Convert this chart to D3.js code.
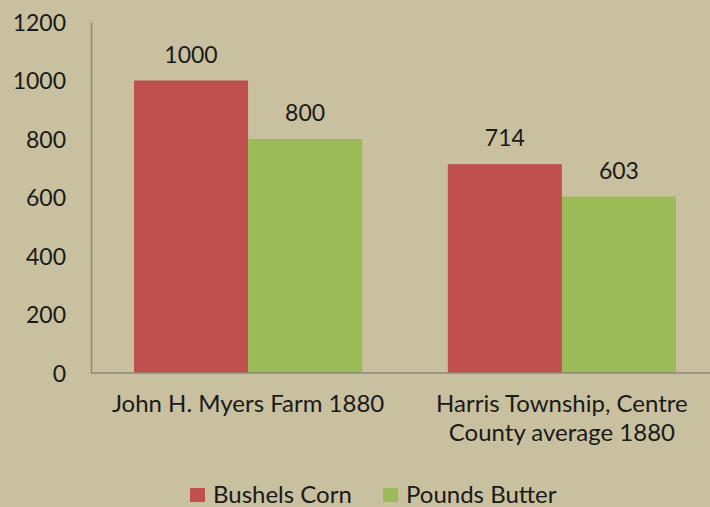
<!DOCTYPE html>
<html>
<head>
<meta charset="utf-8">
<script src="https://cdn.jsdelivr.net/npm/d3@7"></script>
<style>
  body { margin: 0; background: #c9c09f; }
  svg { display: block; }
  text { font-family: Lato, "Open Sans", sans-serif; fill: #1a1a1a; }
</style>
</head>
<body>
<div id="chart"></div>
<script>
// data
var categories = ["John H. Myers Farm 1880", "Harris Township, Centre County average 1880"];
var categoryLines = [["John H. Myers Farm 1880"], ["Harris Township, Centre", "County average 1880"]];
var seriesNames = ["Bushels Corn", "Pounds Butter"];
var corn = [1000, 714];
var butter = [800, 603];
var yTicks = [0, 200, 400, 600, 800, 1000, 1200];
var colors = ["#c0504d", "#9bbb59"];

var width = 710, height = 507;
var margin = {top: 22, left: 91, bottom: 134};
var plotW = 628;
var fs = "23px";

var svg = d3.select("#chart").append("svg")
  .attr("width", width)
  .attr("height", height);

var x0 = d3.scaleBand()
  .domain(categories)
  .range([margin.left, margin.left + plotW])
  .paddingInner(0.273)
  .paddingOuter(0.137);

var x1 = d3.scaleBand()
  .domain(seriesNames)
  .range([0, x0.bandwidth()]);

var y = d3.scaleLinear()
  .domain([0, 1200])
  .range([height - margin.bottom, margin.top]);

var rows = categories.map(function(c, i){
  return {cat: c, vals: [corn[i], butter[i]]};
});

// y axis
var yAxis = svg.append("g")
  .attr("transform", "translate(" + margin.left + ",0)")
  .call(d3.axisLeft(y).tickValues(yTicks).tickFormat(d3.format("d")).tickSize(0).tickPadding(25));
yAxis.select(".domain").attr("stroke", "#8e8a7c").attr("stroke-width", 1.5);
yAxis.selectAll("text").style("font-size", fs).attr("dy", "0.36em");

// bars
var groups = svg.selectAll(".grp")
  .data(rows)
  .enter().append("g")
  .attr("class", "grp")
  .attr("transform", function(d){ return "translate(" + x0(d.cat) + ",0)"; });

groups.selectAll("rect")
  .data(function(d){ return d.vals.map(function(v, k){ return {name: seriesNames[k], v: v, k: k}; }); })
  .enter().append("rect")
  .attr("x", function(d){ return x1(d.name); })
  .attr("width", x1.bandwidth())
  .attr("y", function(d){ return y(d.v); })
  .attr("height", function(d){ return y(0) - y(d.v); })
  .style("fill", function(d){ return colors[d.k]; });

groups.selectAll(".lbl")
  .data(function(d){ return d.vals.map(function(v, k){ return {name: seriesNames[k], v: v}; }); })
  .enter().append("text")
  .attr("class", "lbl")
  .attr("x", function(d){ return x1(d.name) + x1.bandwidth() / 2; })
  .attr("y", function(d){ return y(d.v) - 18; })
  .attr("text-anchor", "middle")
  .style("font-size", fs)
  .text(function(d){ return d.v; });

// x axis line
svg.append("line")
  .attr("x1", margin.left)
  .attr("x2", margin.left + plotW)
  .attr("y1", y(0))
  .attr("y2", y(0))
  .attr("stroke", "#8e8a7c")
  .attr("stroke-width", 1.5);

// category labels
categories.forEach(function(c, i){
  var t = svg.append("text")
    .attr("x", x0(c) + x0.bandwidth() / 2)
    .attr("y", y(0) + 39)
    .attr("text-anchor", "middle")
    .style("font-size", "24px");
  categoryLines[i].forEach(function(line, j){
    t.append("tspan")
      .attr("x", x0(c) + x0.bandwidth() / 2)
      .attr("dy", j == 0 ? 0 : 29)
      .text(line);
  });
});

// legend
var legendX = [190, 383];
var leg = svg.selectAll(".leg")
  .data(seriesNames)
  .enter().append("g")
  .attr("class", "leg")
  .attr("transform", function(d, i){ return "translate(" + legendX[i] + ",488)"; });
leg.append("rect")
  .attr("width", 15)
  .attr("height", 14)
  .style("fill", function(d, i){ return colors[i]; });
leg.append("text")
  .attr("x", 23)
  .attr("y", 15)
  .style("font-size", "24px")
  .text(function(d){ return d; });
</script>
</body>
</html>
